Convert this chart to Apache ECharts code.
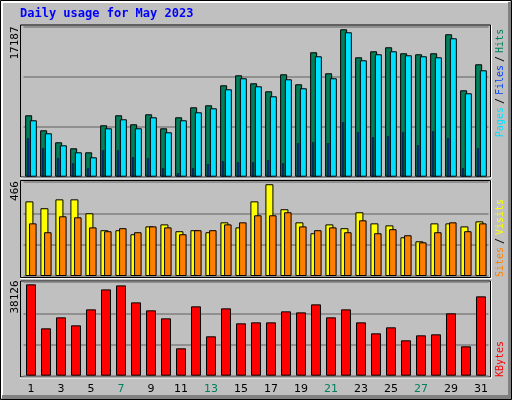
<!DOCTYPE html>
<html><head><meta charset="utf-8">
<script src="https://cdn.jsdelivr.net/npm/echarts@6/dist/echarts.min.js"></script>
<style>html,body{margin:0;padding:0;background:#c0c0c0}#c{width:512px;height:400px}</style>
</head><body><div id="c"></div>
<script>
const days = ['1','2','3','4','5','6','7','8','9','10','11','12','13','14','15','16','17','18','19','20','21','22','23','24','25','26','27','28','29','30','31'];
const weekendDays = ['6','7','13','14','20','21','27','28'];
const hits = [7036,5317,3942,3255,2796,5890,7036,6005,7151,5547,6807,7953,8182,10474,11620,10704,9787,11735,10589,14256,11850,16892,13683,14371,14829,14142,14027,14142,16319,9901,12881];
const pagesCyan = [6463,4974,3598,2796,2223,5547,6578,5547,6807,5088,6463,7380,7839,10016,11277,10360,9214,11162,10131,13798,11277,16548,13339,14027,14371,13912,13798,13683,15860,9558,12193];
const filesBlue = [4400,3255,2109,1536,963,3025,3025,2223,2109,963,390,963,1421,1765,1650,1650,1879,1536,3828,3942,3828,6234,5088,4515,4630,5088,3598,5203,4400,963,3255];
const visitsYellow = [370,336,380,380,311,227,227,207,246,256,222,227,217,266,241,370,455,331,266,212,256,237,316,261,251,192,172,261,261,246,271];
const sitesOrange = [261,217,296,291,241,222,237,217,246,241,207,227,227,256,266,301,301,316,246,227,241,217,276,212,232,202,167,217,266,222,261];
const kbytes = [37200,19290,23770,20510,27020,35160,36790,29870,26620,23360,11150,28250,16040,27430,21330,21730,21730,26210,25800,29060,23770,27020,21730,17260,19700,14410,16440,16850,25400,11970,32320];
const maxHits = 17187, maxSites = 466, maxKB = 38126;

const chart = echarts.init(document.getElementById('c'));
const mono = 'DejaVu Sans Mono';
const GL = 23.5, GW = 465;
const grids = [
  {left:GL, width:GW, top:26.7, height:150},
  {left:GL, width:GW, top:182, height:94},
  {left:GL, width:GW, top:282.1, height:93.6}
];
function xa(g, show){
  return {type:'category', gridIndex:g, data:days, boundaryGap:true,
    axisLine:{show:false}, axisTick:{show:false}, splitLine:{show:false},
    axisLabel:{show:show, margin:8, fontFamily:'DejaVu Sans', fontSize:11,
      color:(v)=>weekendDays.includes(v)?'#00805c':'#000'}};
}
function ya(g, max){
  return {type:'value', gridIndex:g, min:0, max:max, interval:max/3,
    axisLine:{show:false}, axisTick:{show:false}, axisLabel:{show:false},
    splitLine:{show:true, lineStyle:{color:'#808080', width:1.5}}};
}
const bs = (c)=>({color:c, borderColor:'#000', borderWidth:1});
const option = {
  animation:false,
  backgroundColor:'#c0c0c0',
  grid:grids,
  xAxis:[xa(0,false), xa(0,false), xa(1,false), xa(2,true)],
  yAxis:[ya(0,maxHits), ya(1,maxSites), ya(2,maxKB)],
  series:[
    {type:'bar', name:'Hits', xAxisIndex:0, yAxisIndex:0, data:hits, barWidth:7, barGap:'-33%', itemStyle:bs('#00805c'), z:2},
    {type:'bar', name:'Pages', xAxisIndex:0, yAxisIndex:0, data:pagesCyan, barWidth:7, barGap:'-33%', itemStyle:bs('#00e0ff'), z:3},
    {type:'bar', name:'Files', xAxisIndex:1, yAxisIndex:0, data:filesBlue, barWidth:2, barGap:'0%', itemStyle:{color:'#0040ff', borderColor:'#000', borderWidth:0.6}, z:4},
    {type:'bar', name:'pad', xAxisIndex:1, yAxisIndex:0, data:days.map(()=>0), barWidth:5.8, barGap:'0%', itemStyle:{opacity:0}, silent:true},
    {type:'bar', name:'Visits', xAxisIndex:2, yAxisIndex:1, data:visitsYellow, barWidth:8, barGap:'-54%', itemStyle:bs('#ffff00'), z:2},
    {type:'bar', name:'Sites', xAxisIndex:2, yAxisIndex:1, data:sitesOrange, barWidth:7.5, barGap:'-54%', itemStyle:bs('#ff8000'), z:3},
    {type:'bar', name:'KBytes', xAxisIndex:3, yAxisIndex:2, data:kbytes, barWidth:10, itemStyle:bs('#ff0000')}
  ],
  graphic:[
    {type:'rect', shape:{x:0.5,y:0.5,width:511,height:399}, style:{fill:null, stroke:'#000', lineWidth:1}, z:-1},
    {type:'rect', shape:{x:1,y:1,width:509,height:2}, style:{fill:'#ffffff'}},
    {type:'rect', shape:{x:1,y:1,width:2,height:397}, style:{fill:'#ffffff'}},
    {type:'rect', shape:{x:508,y:2,width:3,height:397}, style:{fill:'#808080'}},
    {type:'rect', shape:{x:2,y:395,width:509,height:4}, style:{fill:'#808080'}},
    {type:'rect', shape:{x:20.5,y:25,width:470,height:152}, style:{fill:null, stroke:'#000', lineWidth:1}},
    {type:'rect', shape:{x:20.5,y:180.5,width:470,height:97}, style:{fill:null, stroke:'#000', lineWidth:1}},
    {type:'rect', shape:{x:20.5,y:281,width:470,height:96}, style:{fill:null, stroke:'#000', lineWidth:1}},
    {type:'line', shape:{x1:20,y1:178,x2:492,y2:178}, style:{stroke:'#fff', lineWidth:1}},
    {type:'line', shape:{x1:491.5,y1:25,x2:491.5,y2:178}, style:{stroke:'#fff', lineWidth:1}},
    {type:'line', shape:{x1:20,y1:278.5,x2:492,y2:278.5}, style:{stroke:'#fff', lineWidth:1}},
    {type:'line', shape:{x1:491.5,y1:180,x2:491.5,y2:279}, style:{stroke:'#fff', lineWidth:1}},
    {type:'line', shape:{x1:20,y1:378,x2:492,y2:378}, style:{stroke:'#fff', lineWidth:1}},
    {type:'line', shape:{x1:491.5,y1:281,x2:491.5,y2:378}, style:{stroke:'#fff', lineWidth:1}},
    {type:'text', left:20, top:8, style:{text:'Daily usage for May 2023', fill:'#0000ff', font:'bold 12px "DejaVu Sans Mono"'}},
    {type:'text', x:15, y:43, rotation:Math.PI/2, style:{text:String(maxHits), fill:'#000', font:'11px "DejaVu Sans Mono"', align:'center', verticalAlign:'middle'}},
    {type:'text', x:15, y:191, rotation:Math.PI/2, style:{text:String(maxSites), fill:'#000', font:'11px "DejaVu Sans Mono"', align:'center', verticalAlign:'middle'}},
    {type:'text', x:15, y:297, rotation:Math.PI/2, style:{text:String(maxKB), fill:'#000', font:'11px "DejaVu Sans Mono"', align:'center', verticalAlign:'middle'}},
    {type:'text', x:500, y:83, rotation:Math.PI/2, style:{text:'{a|Pages}{s|/}{b|Files}{s|/}{c|Hits}', align:'center', verticalAlign:'middle', font:'10px "DejaVu Sans Mono"',
      rich:{a:{fill:'#00e0ff',font:'10px "DejaVu Sans Mono"'}, b:{fill:'#0040ff',font:'10px "DejaVu Sans Mono"'}, c:{fill:'#00805c',font:'10px "DejaVu Sans Mono"'}, s:{fill:'#000',font:'10px "DejaVu Sans Mono"',padding:[0,3]}}}},
    {type:'text', x:500, y:238, rotation:Math.PI/2, style:{text:'{a|Sites}{s|/}{b|Visits}', align:'center', verticalAlign:'middle', font:'10px "DejaVu Sans Mono"',
      rich:{a:{fill:'#ff8000',font:'10px "DejaVu Sans Mono"'}, b:{fill:'#ffff00',font:'10px "DejaVu Sans Mono"'}, s:{fill:'#000',font:'10px "DejaVu Sans Mono"',padding:[0,3]}}}},
    {type:'text', x:500, y:359, rotation:Math.PI/2, style:{text:'KBytes', fill:'#ff0000', font:'10px "DejaVu Sans Mono"', align:'center', verticalAlign:'middle'}}
  ]
};
chart.setOption(option);
</script></body></html>
